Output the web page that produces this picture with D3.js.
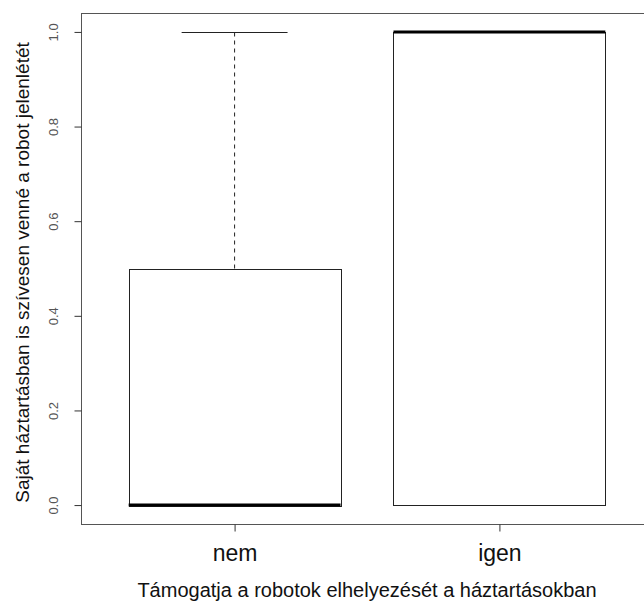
<!DOCTYPE html>
<html><head><meta charset="utf-8">
<script src="https://cdn.jsdelivr.net/npm/d3@7"></script>
<style>body{margin:0;background:#fff}svg{display:block}text{font-family:"Liberation Sans",Arial,sans-serif}</style>
</head><body><svg id="c" width="644" height="601"></svg>
<script>
const categories = ["nem", "igen"];
const lowerWhisker = [0, 0];
const q1 = [0, 0];
const median = [0, 1];
const q3 = [0.5, 1];
const upperWhisker = [1, 1];
const yTicks = [0, 0.2, 0.4, 0.6, 0.8, 1.0];
const xTitle = "Támogatja a robotok elhelyezését a háztartásokban";
const yTitle = "Saját háztartásban is szívesen venné a robot jelenlétét";

const svg = d3.select("#c");
const L = 81, R = 653, T = 13, B = 524;
const x = d3.scaleLinear().domain([0.42, 2.58]).range([L, R]);
const y = d3.scaleLinear().domain([-0.04, 1.04]).range([B, T]);
const bw = 0.8, cw = 0.4;

const data = categories.map((c, i) => ({c, i: i + 1, lw: lowerWhisker[i], q1: q1[i], med: median[i], q3: q3[i], uw: upperWhisker[i]}));

const g = svg.append("g");
data.forEach(d => {
  if (d.uw > d.q3) g.append("line").attr("x1", x(d.i)).attr("x2", x(d.i)).attr("y1", y(d.q3)).attr("y2", y(d.uw)).attr("stroke", "#222").attr("stroke-dasharray", "4,4");
  if (d.lw < d.q1) g.append("line").attr("x1", x(d.i)).attr("x2", x(d.i)).attr("y1", y(d.q1)).attr("y2", y(d.lw)).attr("stroke", "#222").attr("stroke-dasharray", "4,4");
  [d.uw, d.lw].forEach(v => {
    g.append("line").attr("x1", x(d.i - cw / 2)).attr("x2", x(d.i + cw / 2)).attr("y1", Math.round(y(v)) + 0.5).attr("y2", Math.round(y(v)) + 0.5).attr("stroke", "#222");
  });
  g.append("rect").attr("x", Math.round(x(d.i - bw / 2)) + 0.5).attr("y", Math.round(y(d.q3)) + 0.5)
    .attr("width", Math.round(x(d.i + bw / 2) - x(d.i - bw / 2))).attr("height", Math.round(y(d.q1) - y(d.q3)))
    .attr("fill", "#fff").attr("stroke", "#222");
  g.append("line").attr("x1", x(d.i - bw / 2)).attr("x2", x(d.i + bw / 2)).attr("y1", y(d.med)).attr("y2", y(d.med)).attr("stroke", "#000").attr("stroke-width", 3);
});

svg.append("rect").attr("x", L + 0.5).attr("y", T + 0.5).attr("width", R - L).attr("height", B - T).attr("fill", "none").attr("stroke", "#555");

const ya = svg.append("g").attr("transform", `translate(${L + 0.5},0)`)
  .call(d3.axisLeft(y).tickValues(yTicks).tickSize(7).tickFormat(d3.format(".1f")));
ya.select(".domain").remove();
ya.selectAll("line").attr("stroke", "#333");
ya.selectAll("text").attr("x", 0).attr("y", 0).attr("dy", null)
  .attr("text-anchor", "middle").attr("font-size", 13).attr("fill", "#555")
  .attr("transform", "translate(-24,0) rotate(-90)");

const xa = svg.append("g").attr("transform", `translate(0,${B + 0.5})`)
  .call(d3.axisBottom(x).tickValues([1, 2]).tickSize(7).tickFormat((d) => categories[d - 1]));
xa.select(".domain").remove();
xa.selectAll("line").attr("stroke", "#333");
xa.selectAll("text").attr("y", 36).attr("dy", null).attr("font-size", 23).attr("fill", "#111");

svg.append("text").attr("x", (L + R) / 2).attr("y", 597).attr("text-anchor", "middle").attr("font-size", 20).attr("fill", "#111").text(xTitle);
svg.append("text").attr("transform", `translate(29,${(T + B) / 2 + 4}) rotate(-90)`).attr("text-anchor", "middle").attr("font-size", 19).attr("fill", "#111").text(yTitle);
</script></body></html>
